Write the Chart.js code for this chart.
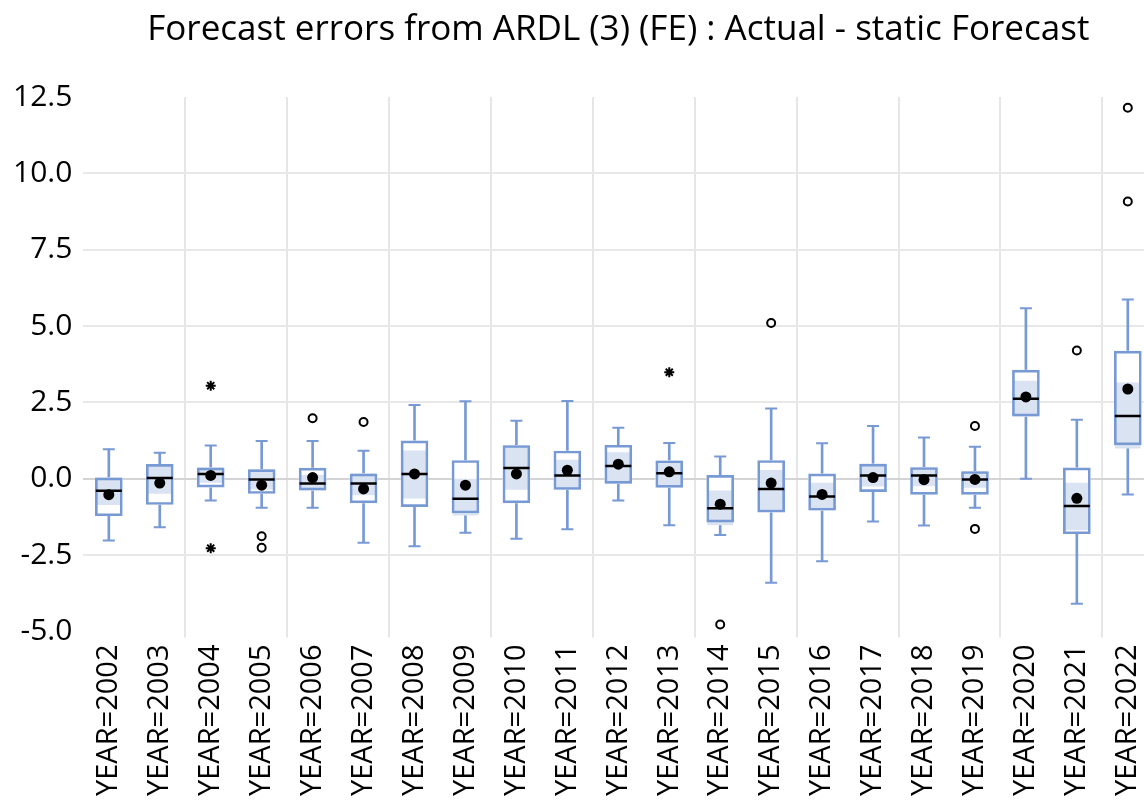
<!DOCTYPE html>
<html>
<head>
<meta charset="utf-8">
<script src="https://cdn.jsdelivr.net/npm/chart.js@4.4.1/dist/chart.umd.min.js"></script>
<style>
  html, body { margin: 0; padding: 0; background: #ffffff; overflow: hidden; }
  #wrap { width: 1144px; height: 803px; overflow: hidden; }
</style>
</head>
<body>
<div id="wrap"><canvas id="c" width="1170" height="803"></canvas></div>
<script>
const chartTitle = 'Forecast errors from ARDL (3) (FE) : Actual - static Forecast';
const categories = ['YEAR=2002','YEAR=2003','YEAR=2004','YEAR=2005','YEAR=2006','YEAR=2007','YEAR=2008',
  'YEAR=2009','YEAR=2010','YEAR=2011','YEAR=2012','YEAR=2013','YEAR=2014','YEAR=2015','YEAR=2016',
  'YEAR=2017','YEAR=2018','YEAR=2019','YEAR=2020','YEAR=2021','YEAR=2022'];
const lowerWhisker = [-2.02,-1.59,-0.71,-0.95,-0.95,-2.09,-2.21,-1.77,-1.96,-1.65,-0.71,-1.52,-1.84,-3.40,-2.70,-1.40,-1.53,-0.95,0.00,-4.09,-0.51];
const q1           = [-1.21,-0.84,-0.27,-0.48,-0.37,-0.79,-0.91,-1.12,-0.79,-0.35,-0.15,-0.28,-1.42,-1.09,-1.03,-0.42,-0.51,-0.51,2.05,-1.80,1.11];
const median       = [-0.39,0.03,0.16,-0.02,-0.15,-0.15,0.16,-0.65,0.35,0.11,0.42,0.18,-0.96,-0.33,-0.58,0.11,0.11,-0.02,2.62,-0.89,2.06];
const q3           = [0.03,0.47,0.36,0.30,0.35,0.16,1.24,0.60,1.09,0.91,1.10,0.59,0.11,0.60,0.16,0.48,0.37,0.24,3.56,0.36,4.18];
const upperWhisker = [0.97,0.85,1.09,1.24,1.24,0.92,2.42,2.54,1.90,2.55,1.67,1.17,0.73,2.30,1.16,1.73,1.35,1.05,5.58,1.93,5.87];
const mean         = [-0.52,-0.14,0.11,-0.21,0.04,-0.33,0.16,-0.21,0.16,0.28,0.48,0.23,-0.83,-0.14,-0.51,0.04,-0.03,-0.02,2.68,-0.64,2.94];
const medianCiLow  = [-0.85,-0.48,-0.12,-0.34,-0.37,-0.53,-0.63,-1.19,-0.35,-0.35,-0.15,-0.25,-1.51,-1.00,-1.03,-0.24,-0.23,-0.28,2.05,-1.67,1.00];
const medianCiHigh = [0.03,0.47,0.36,0.30,0.12,0.16,0.92,-0.01,1.09,0.61,0.86,0.59,-0.39,0.28,-0.14,0.48,0.37,0.24,3.20,-0.14,3.14];
const outlierYears  = ['YEAR=2005','YEAR=2005','YEAR=2006','YEAR=2007','YEAR=2014','YEAR=2015','YEAR=2019','YEAR=2019','YEAR=2021','YEAR=2022','YEAR=2022'];
const outlierValues = [-1.88,-2.26,1.98,1.86,-4.77,5.10,1.73,-1.64,4.20,9.08,12.15];
const farOutlierYears  = ['YEAR=2004','YEAR=2004','YEAR=2013'];
const farOutlierValues = [3.05,-2.27,3.49];
const yTickValues = [-5, -2.5, 0, 2.5, 5, 7.5, 10, 12.5];

const BLUE = '#7799d4';
const SHADE = '#dae3f2';
const FONT = "'Open Sans', 'DejaVu Sans', sans-serif";

const range = (a, b) => categories.map((_, i) => [a[i], b[i]]);
const pairs = (xs, ys) => xs.map((x, i) => ({ x: x, y: ys[i] }));

const pointDs = (data, extra) => Object.assign({
  type: 'line', data: data, showLine: false, pointHoverRadius: 0
}, extra);

const barDs = (data, extra) => Object.assign({
  type: 'bar', data: data, grouped: false, borderSkipped: false
}, extra);

const datasets = [
  pointDs(pairs(farOutlierYears, farOutlierValues), { pointStyle: 'star', pointRadius: 5, borderColor: '#000', borderWidth: 2, backgroundColor: '#000' }),
  pointDs(pairs(outlierYears, outlierValues), { pointStyle: 'circle', pointRadius: 4, borderColor: '#000', borderWidth: 2, backgroundColor: '#fff' }),
  pointDs(mean, { pointStyle: 'circle', pointRadius: 5.5, borderColor: '#000', borderWidth: 0, backgroundColor: '#000' }),
  pointDs(median, { pointStyle: 'line', pointRadius: 13, borderColor: '#000', borderWidth: 2.5 }),
  pointDs(upperWhisker, { pointStyle: 'line', pointRadius: 6, borderColor: BLUE, borderWidth: 2 }),
  pointDs(lowerWhisker, { pointStyle: 'line', pointRadius: 6, borderColor: BLUE, borderWidth: 2 }),
  barDs(range(q1, q3), { barThickness: 27, backgroundColor: 'rgba(0,0,0,0)', borderColor: BLUE, borderWidth: 2 }),
  barDs(range(medianCiLow, medianCiHigh), { barThickness: 25, backgroundColor: SHADE, borderWidth: 0 }),
  barDs(range(q1, q3), { barThickness: 27, backgroundColor: '#ffffff', borderWidth: 0 }),
  barDs(range(lowerWhisker, upperWhisker), { barThickness: 2, backgroundColor: BLUE, borderWidth: 0 })
];

new Chart(document.getElementById('c'), {
  type: 'bar',
  data: { labels: categories, datasets: datasets },
  options: {
    responsive: false,
    animation: false,
    events: [],
    layout: { padding: { left: 2, right: 0, top: 0, bottom: 0 } },
    plugins: {
      legend: { display: false },
      tooltip: { enabled: false },
      title: {
        display: true,
        text: chartTitle,
        fullSize: false,
        color: '#000',
        font: { family: FONT, size: 35, weight: 'normal' },
        padding: { top: 9, bottom: 46 }
      }
    },
    scales: {
      x: {
        offset: true,
        border: { display: false },
        grid: {
          offset: true,
          drawTicks: true,
          tickLength: 6,
          lineWidth: 2,
          color: (ctx) => (typeof ctx.index === 'number' && ctx.index > 0 && ctx.index % 2 === 0) ? '#e6e6e6' : 'rgba(0,0,0,0)'
        },
        ticks: {
          color: '#000',
          font: { family: FONT, size: 29 },
          minRotation: 90,
          maxRotation: 90,
          autoSkip: false,
          padding: 7
        }
      },
      y: {
        min: -5,
        max: 12.5,
        border: { display: false },
        afterBuildTicks: (scale) => { scale.ticks = yTickValues.map(v => ({ value: v })); },
        grid: {
          drawTicks: false,
          lineWidth: 2,
          color: (ctx) => {
            const v = ctx.tick ? ctx.tick.value : null;
            if (v === 0) return '#d4d4d4';
            if (v === -5 || v === 12.5 || v === null) return 'rgba(0,0,0,0)';
            return '#e8e8e8';
          }
        },
        ticks: {
          color: '#000',
          font: { family: FONT, size: 30 },
          padding: 11,
          callback: (v) => Number(v).toFixed(1)
        }
      }
    }
  }
});
</script>
</body>
</html>
